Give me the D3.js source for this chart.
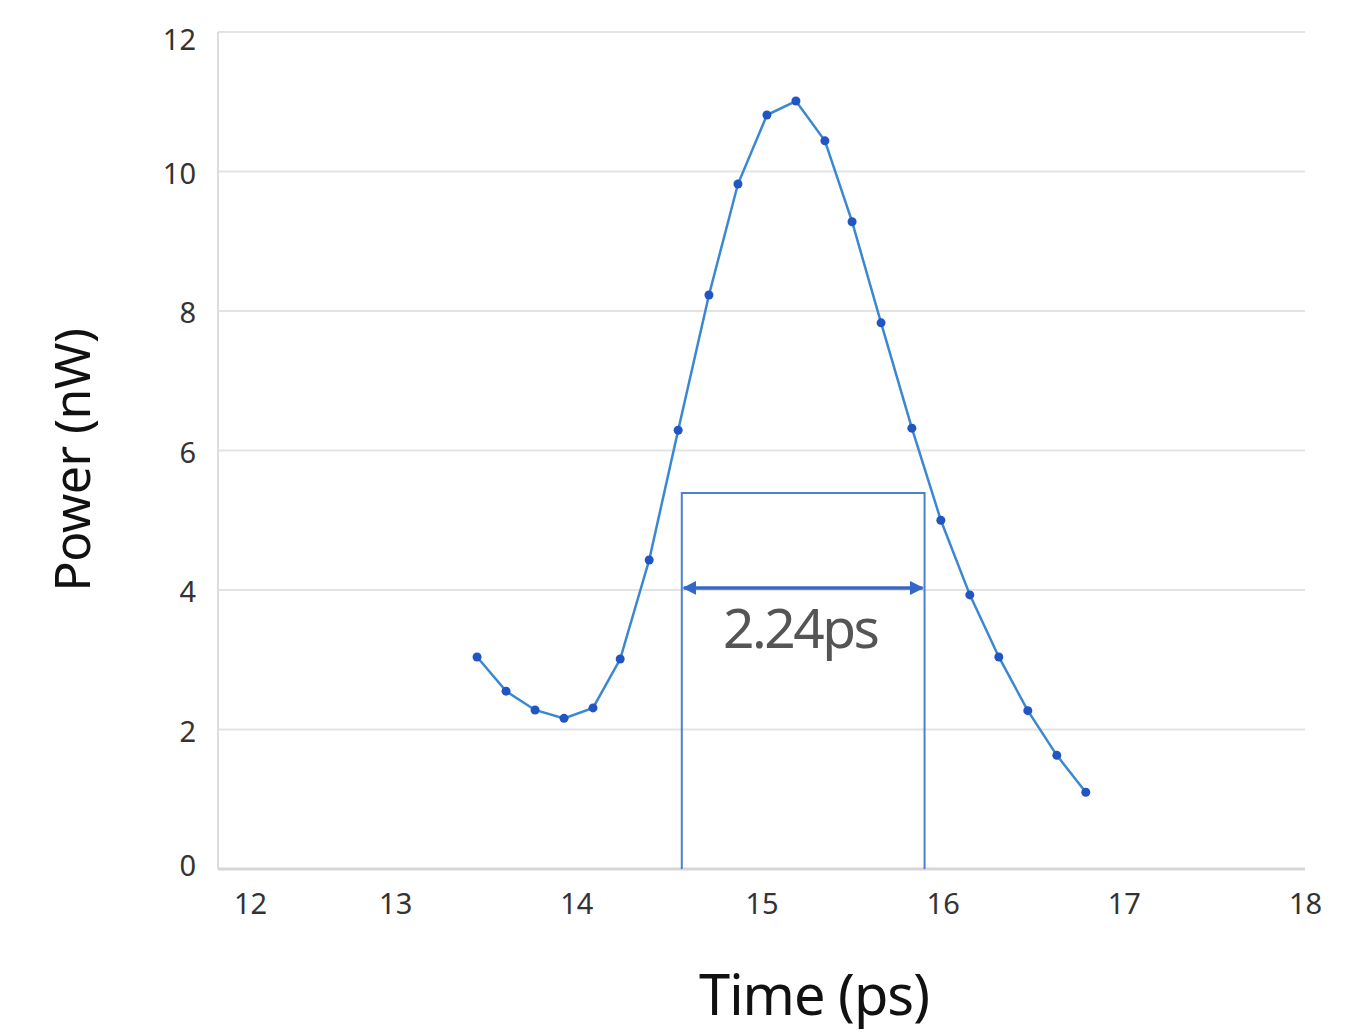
<!DOCTYPE html>
<html>
<head>
<meta charset="utf-8">
<script src="https://cdn.jsdelivr.net/npm/d3@7"></script>
<style>
  body { margin: 0; background: #fff; }
  text { font-family: "Noto Sans", "Open Sans", sans-serif; }
</style>
</head>
<body>
<div id="chart"></div>
<script>
// measured pulse (time in ps, power in nW)
var timePs = [13.43, 13.59, 13.75, 13.91, 14.07, 14.22, 14.38, 14.54, 14.71, 14.87, 15.03,
  15.19, 15.35, 15.50, 15.66, 15.83, 15.99, 16.15, 16.31, 16.47, 16.63, 16.79];
var powerNw = [3.04, 2.55, 2.28, 2.16, 2.31, 3.01, 4.43, 6.29, 8.23, 9.82, 10.81,
  11.01, 10.44, 9.28, 7.83, 6.32, 5.00, 3.93, 3.04, 2.27, 1.63, 1.10];
var xTicks = [12, 13, 14, 15, 16, 17, 18];
var yTicks = [0, 2, 4, 6, 8, 10, 12];
// width marker: box edges, top, arrow level
var markX = [14.56, 15.90];
var markTop = 5.39;
var markArrow = 4.03;
var markLabel = '2.24ps';

var W = 1369, H = 1032;
var plotLeft = 218, plotRight = 1305, plotTop = 32, plotBottom = 869;

var svg = d3.select('#chart').append('svg')
  .attr('width', W).attr('height', H);

var x = d3.scaleLinear().domain([12, 18]).range([plotLeft, plotRight]);
var y = d3.scaleLinear().domain([0, 12]).range([plotBottom, plotTop]);

// grid lines
svg.append('g').selectAll('line').data(yTicks.filter(function(d) { return d > 0; }))
  .enter().append('line')
  .attr('x1', plotLeft).attr('x2', plotRight)
  .attr('y1', function(d) { return y(d); }).attr('y2', function(d) { return y(d); })
  .attr('stroke', '#e3e3e3').attr('stroke-width', 2);

// axis lines
svg.append('line').attr('x1', plotLeft).attr('x2', plotLeft).attr('y1', plotTop).attr('y2', plotBottom)
  .attr('stroke', '#dcdcdc').attr('stroke-width', 2);
svg.append('line').attr('x1', plotLeft).attr('x2', plotRight).attr('y1', plotBottom).attr('y2', plotBottom)
  .attr('stroke', '#d6d6d6').attr('stroke-width', 3);

// y axis labels
var yAxis = d3.axisLeft(y).tickValues(yTicks).tickSize(0).tickPadding(22).tickFormat(d3.format('d'));
var gy = svg.append('g').attr('transform', 'translate(' + plotLeft + ',0)').call(yAxis);
gy.select('.domain').remove();
gy.selectAll('text').attr('font-size', 29).attr('fill', '#333').attr('dy', '0.4em')
  .attr('y', function(d) { return d === 12 ? 6 : (d === 0 ? -5 : 0); })
  .style('font-family', '"Noto Sans", sans-serif');

// x axis labels
var xAxis = d3.axisBottom(x).tickValues(xTicks).tickSize(0).tickPadding(24).tickFormat(d3.format('d'));
var gx = svg.append('g').attr('transform', 'translate(0,' + plotBottom + ')').call(xAxis);
gx.select('.domain').remove();
gx.selectAll('text').attr('font-size', 29).attr('fill', '#333')
  .style('font-family', '"Noto Sans", sans-serif')
  .attr('dx', function(d) { return d === 12 ? 32 : (d === 13 || d === 14 ? -4 : 0); });

// width marker box
var boxColor = '#4a7fd6';
svg.append('path')
  .attr('d', 'M' + x(markX[0]) + ',' + y(0) + 'V' + y(markTop) + 'H' + x(markX[1]) + 'V' + y(0))
  .attr('fill', 'none').attr('stroke', boxColor).attr('stroke-width', 2);

svg.append('defs').selectAll('marker').data(['s', 'e']).enter().append('marker')
  .attr('id', function(d) { return 'arr-' + d; })
  .attr('viewBox', '0 0 10 10').attr('refX', 9).attr('refY', 5)
  .attr('markerWidth', 4).attr('markerHeight', 4)
  .attr('orient', 'auto-start-reverse')
  .append('path').attr('d', 'M0,0L10,5L0,10z').attr('fill', '#3468c8');

svg.append('line')
  .attr('x1', x(markX[0]) + 2).attr('x2', x(markX[1]) - 2)
  .attr('y1', y(markArrow)).attr('y2', y(markArrow))
  .attr('stroke', '#3468c8').attr('stroke-width', 3.5)
  .attr('marker-start', 'url(#arr-s)').attr('marker-end', 'url(#arr-e)');

svg.append('text')
  .attr('x', (x(markX[0]) + x(markX[1])) / 2 - 3)
  .attr('y', y(markArrow) + 60)
  .attr('text-anchor', 'middle')
  .attr('font-size', 55).attr('fill', '#555')
  .attr('letter-spacing', -2.5)
  .text(markLabel);

// pulse curve
var pts = timePs.map(function(t, i) { return [t, powerNw[i]]; });
var line = d3.line().x(function(d) { return x(d[0]); }).y(function(d) { return y(d[1]); });
svg.append('path').datum(pts).attr('d', line)
  .attr('fill', 'none').attr('stroke', '#3a88d2').attr('stroke-width', 2.5);

svg.append('g').selectAll('circle').data(pts).enter().append('circle')
  .attr('cx', function(d) { return x(d[0]); })
  .attr('cy', function(d) { return y(d[1]); })
  .attr('r', 4.5).attr('fill', '#2155c4');

// axis titles
svg.append('text')
  .attr('x', 814).attr('y', 1015)
  .attr('text-anchor', 'middle')
  .attr('font-size', 56).attr('fill', '#111')
  .attr('letter-spacing', -1)
  .text('Time (ps)');

svg.append('text')
  .attr('transform', 'translate(90,460) rotate(-90)')
  .attr('text-anchor', 'middle')
  .attr('font-size', 50).attr('fill', '#111')
  .attr('letter-spacing', -0.5)
  .text('Power (nW)');
</script>
</body>
</html>
